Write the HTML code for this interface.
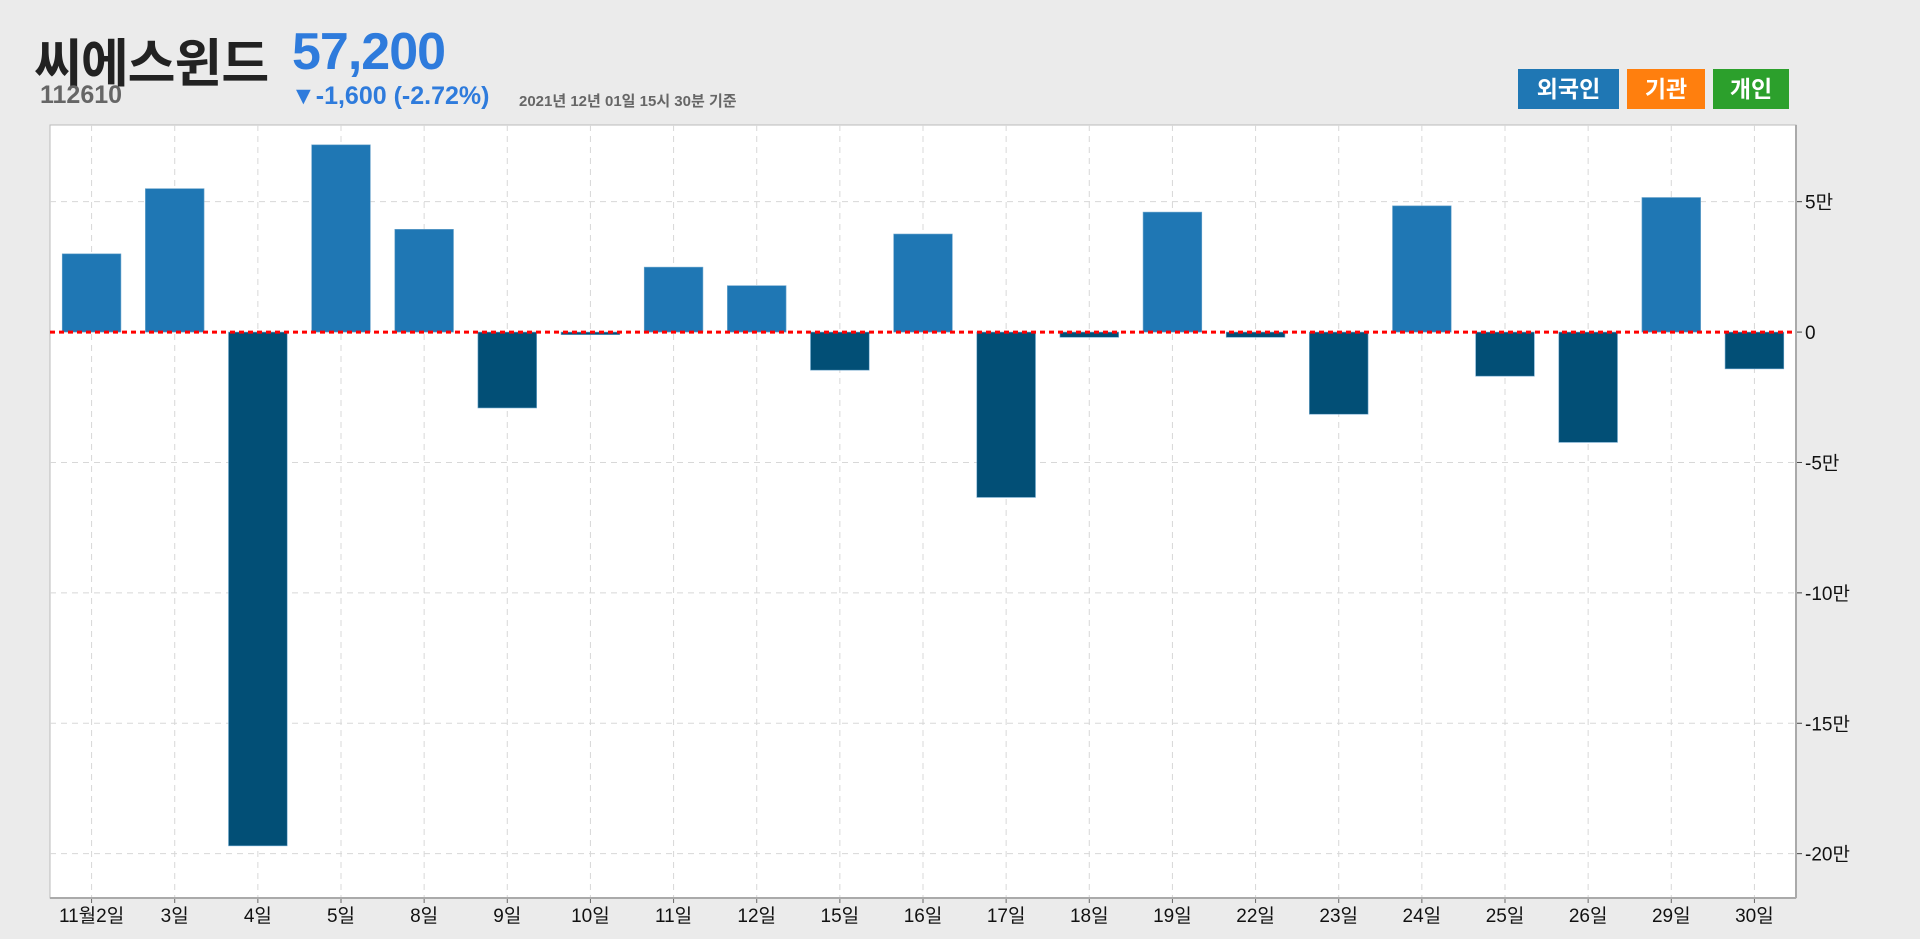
<!DOCTYPE html>
<html><head><meta charset="utf-8"><style>
body{margin:0;width:1920px;height:939px;background:#ebebeb;font-family:"Liberation Sans","Noto Sans CJK KR",sans-serif;overflow:hidden;position:relative}
.t{position:absolute;white-space:nowrap}
.lg{position:absolute;top:69px;height:40px;color:#fff;font-weight:bold;font-size:23px;line-height:40px;text-align:center}
</style></head><body>
<div class="t" style="left:34px;top:22px;font-size:52px;font-weight:bold;color:#222;letter-spacing:-1px">씨에스윈드</div>
<div class="t" style="left:292px;top:22px;font-size:52px;font-weight:bold;color:#2e7bdc;letter-spacing:-1px">57,200</div>
<div class="t" style="left:40px;top:81px;font-size:25px;font-weight:bold;color:#666">112610</div>
<div class="t" style="left:291px;top:82px;font-size:25px;font-weight:bold;color:#2e7bdc">▼-1,600 (-2.72%)</div>
<div class="t" style="left:519px;top:90px;font-size:15px;font-weight:bold;color:#666">2021년 12년 01일 15시 30분 기준</div>
<div class="lg" style="left:1518px;width:101px;background:#1f77b4">외국인</div>
<div class="lg" style="left:1627px;width:78px;background:#ff7f0e">기관</div>
<div class="lg" style="left:1713px;width:76px;background:#2ca02c">개인</div>
<svg id="c" width="1920" height="939" style="position:absolute;left:0;top:0"></svg>
<script>
const categories=["11월2일","3일","4일","5일","8일","9일","10일","11일","12일","15일","16일","17일","18일","19일","22일","23일","24일","25일","26일","29일","30일"];
const values=[3.0,5.5,-19.7,7.18,3.94,-2.91,-0.1,2.49,1.78,-1.46,3.76,-6.34,-0.2,4.6,-0.2,-3.15,4.84,-1.69,-4.23,5.16,-1.41];
const tickValues=[5,0,-5,-10,-15,-20];
const tickLabels=["5만","0","-5만","-10만","-15만","-20만"];
const NS="http://www.w3.org/2000/svg",svg=document.getElementById('c');
const L=50,R=1796,T=125,B=898,yMax=7.94,yMin=-21.7;
const y=v=>T+(yMax-v)/(yMax-yMin)*(B-T);
const band=(R-L)/categories.length;
const x=i=>L+band*(i+0.5);
function mk(tag,a){const e=document.createElementNS(NS,tag);for(const k in a)e.setAttribute(k,a[k]);svg.appendChild(e);return e;}
let e=mk('rect',{x:L,y:T,width:R-L,height:B-T,fill:'#fff',stroke:'#bbb','stroke-width':1});


categories.forEach((c,i)=>{
 let g=mk('line',{x1:x(i),x2:x(i),y1:T,y2:B,stroke:'#d8d8d8','stroke-dasharray':'6,5','stroke-width':1});
 
 
 let t=mk('text',{x:x(i),y:922,'text-anchor':'middle','font-size':19,fill:'#111'});t.textContent=c;
 
 
 let k=mk('line',{x1:x(i),x2:x(i),y1:B,y2:B+5,stroke:'#666'});
 
 
});
tickValues.forEach((v,i)=>{
 if(v!==0){let g=mk('line',{x1:L,x2:R,y1:y(v),y2:y(v),stroke:'#d8d8d8','stroke-dasharray':'6,5'});
 
 }
 let k=mk('line',{x1:R,x2:R+6,y1:y(v),y2:y(v),stroke:'#444'});
 
 
 let t=mk('text',{x:R+9,y:y(v)+7,'font-size':19,fill:'#111'});t.textContent=tickLabels[i];
 
 
});
values.forEach((v,i)=>{
 const w=band*0.706,y0=y(0),yv=y(v);
 let b=mk('rect',{x:x(i)-w/2,y:Math.min(y0,yv),width:w,height:Math.max(1,Math.abs(yv-y0)),fill:v>=0?'#1f77b4':'#024f76',stroke:'#6ea6cc','stroke-width':0.6});
 
 
});
e=mk('line',{x1:L,x2:R,y1:y(0),y2:y(0),stroke:'#ff0000','stroke-width':3,'stroke-dasharray':'5,4'});


e=mk('line',{x1:R,x2:R,y1:T,y2:B,stroke:'#aaa','stroke-width':2});


e=mk('line',{x1:L,x2:R,y1:B,y2:B,stroke:'#aaa','stroke-width':2});


</script>
</body></html>
